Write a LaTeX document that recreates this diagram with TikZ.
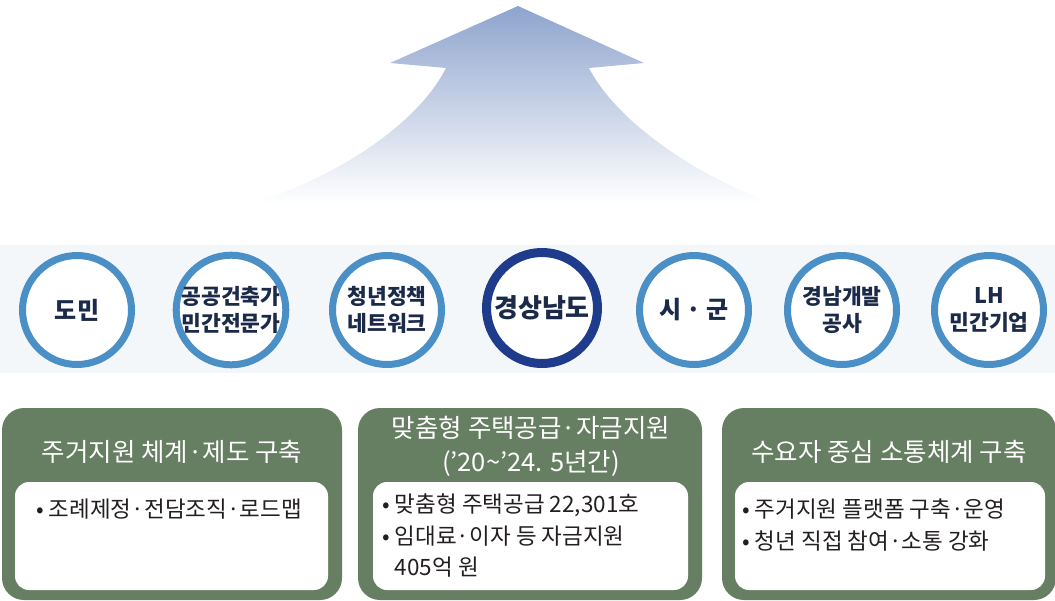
\documentclass[tikz,border=0pt]{standalone}
\usepackage{fontspec}
\setmainfont{Noto Sans CJK KR}
\usetikzlibrary{backgrounds}
\definecolor{bandbg}{HTML}{F4F7FA}
\definecolor{arrowtop}{HTML}{8EA4CE}
\definecolor{arrowmid}{HTML}{A6B7D9}
\definecolor{ringblue}{HTML}{4A8FC6}
\definecolor{ringdark}{HTML}{1F3B8C}
\definecolor{connblue}{HTML}{9EC5E3}
\definecolor{circtext}{HTML}{1B2A48}
\definecolor{boxgreen}{HTML}{667E61}
\definecolor{bodytext}{HTML}{231F20}
\tikzset{
  ring/.style={circle, draw=ringblue, line width=7pt, fill=white, minimum size=109pt,
    inner sep=0pt, align=center, text=circtext, font=\bfseries\fontsize{21.5}{27}\selectfont},
  ringbig/.style={ring, font=\bfseries\fontsize{24}{28}\selectfont},
  ringmain/.style={ring, draw=ringdark, line width=9pt, minimum size=111pt,
    font=\bfseries\fontsize{26}{30}\selectfont},
  conn/.style={draw=connblue, line width=10pt},
  gbox/.style={rectangle, rounded corners=22pt, fill=boxgreen, inner sep=0pt},
  wbox/.style={rectangle, rounded corners=14pt, fill=white, inner sep=0pt},
  titletext/.style={text=white, align=center, inner sep=0pt, font=\fontsize{25.5}{34}\selectfont},
  bullettext/.style={text=bodytext, align=left, inner sep=0pt, anchor=north west, font=\fontsize{22.5}{31.5}\selectfont}
}
\begin{document}
\begin{tikzpicture}[x=1pt,y=-1pt]
\useasboundingbox (0,0) rectangle (1055,600);
% band
\fill[bandbg] (0,245) rectangle (1055,373);
% arrow
\shade[top color=arrowtop, middle color=arrowmid, bottom color=white]
  (518,6) -- (644,63) -- (589,68)
  .. controls (621,130) and (716,185) .. (775,203)
  -- (250,203)
  .. controls (320,185) and (415,130) .. (446,68)
  -- (390,63) -- cycle;
% circles
\node[ringbig] (c1) at (77,310) {도민};
\node[ring] (c2) at (231,310) {공공건축가\\민간전문가};
\node[ring] (c3) at (387,310) {청년정책\\네트워크};
\node[ringmain] (c4) at (542,308) {경상남도};
\node[ringbig] (c5) at (694,310) {시 · 군};
\node[ring] (c6) at (842,310) {경남개발\\공사};
\node[ring] (c7) at (989,310) {LH\\민간기업};
\begin{scope}[on background layer]
\draw[conn] (c1) -- (c2);
\draw[conn] (c2) -- (c3);
\draw[conn] (c3) -- (c4);
\draw[conn] (c4) -- (c5);
\draw[conn] (c5) -- (c6);
\draw[conn] (c6) -- (c7);
\end{scope}
% boxes
\node[gbox, minimum width=340pt, minimum height=192pt] (b1) at (172,504) {};
\node[gbox, minimum width=344pt, minimum height=192pt] (b2) at (530,504) {};
\node[gbox, minimum width=334pt, minimum height=192pt] (b3) at (889,504) {};
\node[wbox, minimum width=313pt, minimum height=108pt] (w1) at (171.5,536) {};
\node[wbox, minimum width=315pt, minimum height=108pt] (w2) at (530.5,536) {};
\node[wbox, minimum width=310pt, minimum height=108pt] (w3) at (890,536) {};
% titles
\node[titletext] (t1) at (172,452) {주거지원 체계·제도 구축};
\node[titletext] (t2) at (531,446) {맞춤형 주택공급·자금지원\\('20\textasciitilde'24. 5년간)};
\node[titletext] (t3) at (889,452) {수요자 중심 소통체계 구축};
% bullets
\node[bullettext] (l1) at (36,499) {• 조례제정·전담조직·로드맵};
\node[bullettext] (l2) at (382,494) {• 맞춤형 주택공급 22,301호\\• 임대료·이자 등 자금지원\\\phantom{• }405억 원};
\node[bullettext] (l3) at (742,499) {• 주거지원 플랫폼 구축·운영\\• 청년 직접 참여·소통 강화};
\end{tikzpicture}
\end{document}
